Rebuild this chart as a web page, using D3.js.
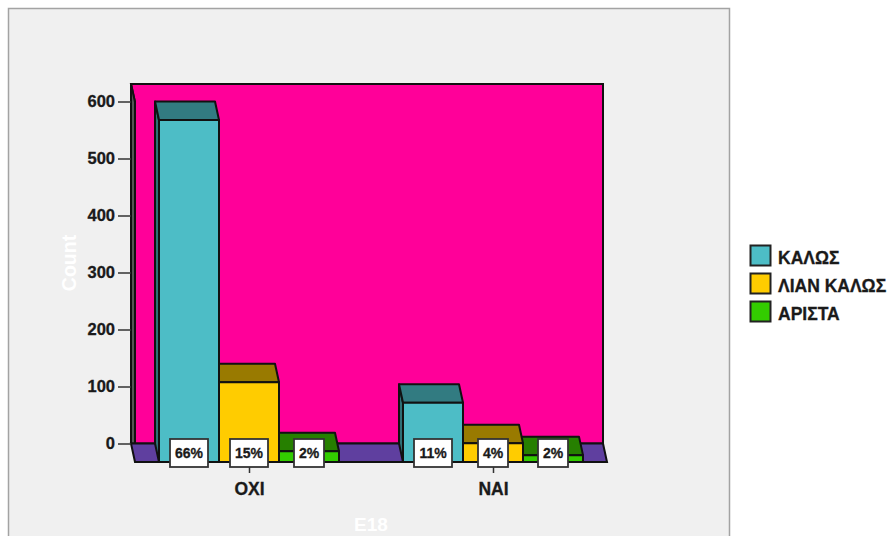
<!DOCTYPE html>
<html><head><meta charset="utf-8">
<script src="https://cdnjs.cloudflare.com/ajax/libs/d3/7.8.5/d3.min.js"></script>
<style>html,body{margin:0;padding:0;background:#fff}svg{display:block}text{font-family:"Liberation Sans",Arial,sans-serif;font-weight:bold}</style>
</head><body><svg id="c" width="887" height="536"></svg>
<script>
const categories = ["ΟΧΙ", "ΝΑΙ"];
const seriesNames = ["ΚΑΛΩΣ", "ΛΙΑΝ ΚΑΛΩΣ", "ΑΡΙΣΤΑ"];
const kalos = [600, 104];
const lianKalos = [140, 33];
const arista = [19, 12];
const kalosPct = ["66%", "11%"];
const lianKalosPct = ["15%", "4%"];
const aristaPct = ["2%", "2%"];
const yTicks = [0, 100, 200, 300, 400, 500, 600];
const frontColors = ["#4dbdc6", "#ffcc00", "#33cc00"];
const topColors = ["#327b81", "#997a00", "#267f00"];
const sideColor = ["#2f7076", "#997a00", "#267f00"];

const values = [kalos, lianKalos, arista];
const pcts = [kalosPct, lianKalosPct, aristaPct];
const dx = 4, dy = 18.5;
const svg = d3.select("#c");
const stroke = "#111";
const sw = 2;

// panel
svg.append("rect").attr("x", 8.5).attr("y", 8.5).attr("width", 721).attr("height", 540)
  .attr("fill", "#f0f0f0").attr("stroke", "#a3a3a3").attr("stroke-width", 1.5);

const y = d3.scaleLinear().domain([0, 600]).range([443.5, 101.5]);
const x0 = d3.scalePoint().domain(categories).range([249, 493]);
const x1 = d3.scaleBand().domain(seriesNames).range([-90, 90]);

const poly = pts => "M" + pts.map(p => p.join(",")).join("L") + "Z";
const yb = y(0), yf = yb + dy;
const L = 131, R = 603;

// back wall, side wall, floor
svg.append("path").attr("d", poly([[L, 84], [R, 84], [R, yb], [L + dx, yb], [L + dx, 102]]))
  .attr("fill", "#ff0099").attr("stroke", stroke).attr("stroke-width", sw);
svg.append("path").attr("d", poly([[L, 84], [L + dx, 102], [L + dx, yb], [L, yb]]))
  .attr("fill", "#555").attr("stroke", stroke).attr("stroke-width", sw);
svg.append("path").attr("d", poly([[L, yb], [R, yb], [R + dx, yf], [L + dx, yf]]))
  .attr("fill", "#5f3f9f").attr("stroke", stroke).attr("stroke-width", sw);

// y axis
const yAxis = d3.axisLeft(y).tickValues(yTicks).tickSize(13).tickPadding(3);
const gy = svg.append("g").attr("transform", `translate(${L},0)`).call(yAxis);
gy.select(".domain").remove();
gy.selectAll("line").attr("stroke", "#333").attr("stroke-width", 1.5);
gy.selectAll("text").attr("fill", "#1a1a1a").attr("stroke", "#1a1a1a").attr("stroke-width", .3).style("font-size", "16.5px");

// bars: drawn right-to-left so nearer neighbours cover hidden faces
categories.forEach((cat, c) => {
  for (let s = seriesNames.length - 1; s >= 0; s--) {
    const a = x0(cat) + x1(seriesNames[s]);
    const b = a + x1.bandwidth();
    const t = y(values[s][c]) + dy;
    const g = svg.append("g").attr("stroke", stroke).attr("stroke-width", sw).attr("stroke-linejoin", "round");
    g.append("path").attr("d", poly([[a - dx, t - dy], [a, t], [a, yf], [a - dx, yf - dy]])).attr("fill", sideColor[s]);
    g.append("path").attr("d", poly([[a - dx, t - dy], [b - dx, t - dy], [b, t], [a, t]])).attr("fill", topColors[s]);
    g.append("path").attr("d", poly([[a, t], [b, t], [b, yf], [a, yf]])).attr("fill", frontColors[s]);
  }
});

// x axis
const xAxis = d3.axisBottom(x0).tickSize(6).tickPadding(10);
const gx = svg.append("g").attr("transform", `translate(0,467)`).call(xAxis);
gx.select(".domain").remove();
gx.selectAll("line").attr("stroke", "#333").attr("stroke-width", 1.5);
gx.selectAll("text").attr("fill", "#1a1a1a").attr("stroke", "#1a1a1a").attr("stroke-width", .3).style("font-size", "17.5px");

// percentage labels
categories.forEach((cat, c) => {
  seriesNames.forEach((name, s) => {
    const cx = x0(cat) + x1(name) + x1.bandwidth() / 2;
    const g = svg.append("g");
    const r = g.append("rect");
    g.append("text").attr("x", cx).attr("y", 458).attr("text-anchor", "middle")
      .attr("fill", "#1a1a1a").attr("stroke", "#1a1a1a").attr("stroke-width", .3).style("font-size", "14px").text(pcts[s][c]);
    const w = pcts[s][c].length === 3 ? 38 : 30;
    r.attr("x", cx - w / 2).attr("y", 439).attr("width", w).attr("height", 28)
      .attr("fill", "#fff").attr("stroke", "#333").attr("stroke-width", 1.8);
  });
});

// axis titles
svg.append("text").attr("transform", "translate(76,263) rotate(-90)").attr("text-anchor", "middle")
  .attr("fill", "#fff").style("font-size", "19.5px").text("Count");
svg.append("text").attr("x", 371).attr("y", 531).attr("text-anchor", "middle")
  .attr("fill", "#fff").style("font-size", "19px").text("E18");

// legend
seriesNames.forEach((name, s) => {
  const ly = 245 + s * 28;
  svg.append("rect").attr("x", 750.5).attr("y", ly + .5).attr("width", 20).attr("height", 20)
    .attr("fill", frontColors[s]).attr("stroke", "#222").attr("stroke-width", 2);
  svg.append("text").attr("x", 778).attr("y", ly + 18.5).attr("fill", "#1a1a1a")
    .attr("stroke", "#1a1a1a").attr("stroke-width", .3).style("font-size", "17.5px").text(name);
});
</script></body></html>
